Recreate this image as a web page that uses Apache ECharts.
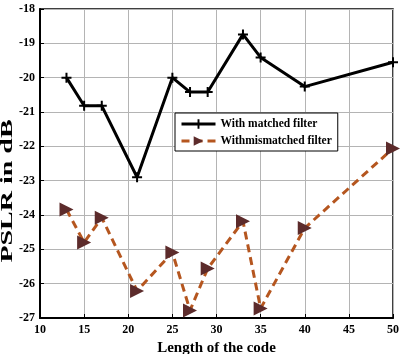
<!DOCTYPE html>
<html>
<head>
<meta charset="utf-8">
<script src="https://cdn.jsdelivr.net/npm/echarts@6/dist/echarts.min.js"></script>
<style>
  html, body { margin: 0; padding: 0; background: #fff; }
  #chart { width: 407px; height: 354px; }
</style>
</head>
<body>
<div id="chart"></div>
<script>
// code lengths and PSLR values
const codeLength = [13, 15, 17, 21, 25, 27, 29, 33, 35, 40, 50];
const matchedPslr = [-20.0, -20.82, -20.82, -22.9, -20.0, -20.42, -20.42, -18.74, -19.41, -20.26, -19.55];
const mismatchedPslr = [-23.84, -24.8, -24.08, -26.21, -25.09, -26.78, -25.56, -24.18, -26.72, -24.38, -22.06];

const font = "'Liberation Serif', 'Times New Roman', serif";
const plusIcon = "path://M4,0h2v4h4v2h-4v4h-2v-4h-4v-2h4z";
const triIcon = "path://M0,0L10,5L0,10Z";

const chart = echarts.init(document.getElementById("chart"), null, { renderer: "canvas" });

const axisCommon = {
  axisLine: { show: true, lineStyle: { color: "#000", width: 2 } },
  axisTick: { show: true, inside: true, length: 4, lineStyle: { color: "#000" } },
  splitLine: { show: true, lineStyle: { color: "#b4b4b4", width: 1 } },
  axisLabel: { color: "#000", fontFamily: font, fontWeight: "bold", fontSize: 12 },
  nameTextStyle: { color: "#000", fontFamily: font, fontWeight: "bold", fontSize: 15 },
  nameMoveOverlap: false,
};

chart.setOption({
  animation: false,
  backgroundColor: "#fff",
  grid: {
    left: 40, right: 14, top: 9, bottom: 36,
    outerBoundsMode: "none",
    containLabel: false,
    show: true, borderColor: "#000", borderWidth: 1.5,
  },
  // y axis title is stretched along its length in the original figure
  graphic: [
    {
      type: "text",
      x: 8, y: 191,
      rotation: Math.PI / 2,
      scaleX: 1.75,
      style: {
        text: "PSLR in dB",
        font: "bold 16px " + font,
        fill: "#000",
        textAlign: "center",
        textVerticalAlign: "middle",
      },
    },
  ],
  legend: {
    left: 175, top: 113,
    orient: "vertical",
    itemWidth: 34, itemHeight: 12, itemGap: 5,
    padding: [5, 6, 4, 5],
    backgroundColor: "#fff",
    borderColor: "#000", borderWidth: 1,
    lineStyle: { width: 3 },
    textStyle: { color: "#000", fontFamily: font, fontWeight: "bold", fontSize: 11.5 },
    data: ["With matched filter", "Withmismatched filter"],
  },
  xAxis: Object.assign({}, axisCommon, {
    type: "value",
    min: 10, max: 50, interval: 5,
    name: "Length of the code",
    nameLocation: "middle",
    nameGap: 23,
    axisLabel: Object.assign({}, axisCommon.axisLabel, { margin: 6 }),
  }),
  yAxis: Object.assign({}, axisCommon, {
    type: "value",
    min: -27, max: -18, interval: 1,
    axisLabel: Object.assign({}, axisCommon.axisLabel, { margin: 5 }),
  }),
  series: [
    {
      name: "With matched filter",
      type: "line",
      data: codeLength.map((x, i) => [x, matchedPslr[i]]),
      symbol: plusIcon,
      symbolSize: 10,
      lineStyle: { color: "#000", width: 3 },
      itemStyle: { color: "#000" },
    },
    {
      name: "Withmismatched filter",
      type: "line",
      data: codeLength.map((x, i) => [x, mismatchedPslr[i]]),
      symbol: triIcon,
      symbolSize: 14,
      lineStyle: { color: "#b5561f", width: 3, type: [8, 5] },
      itemStyle: { color: "#5c2b2b" },
    },
  ],
});
</script>
</body>
</html>
